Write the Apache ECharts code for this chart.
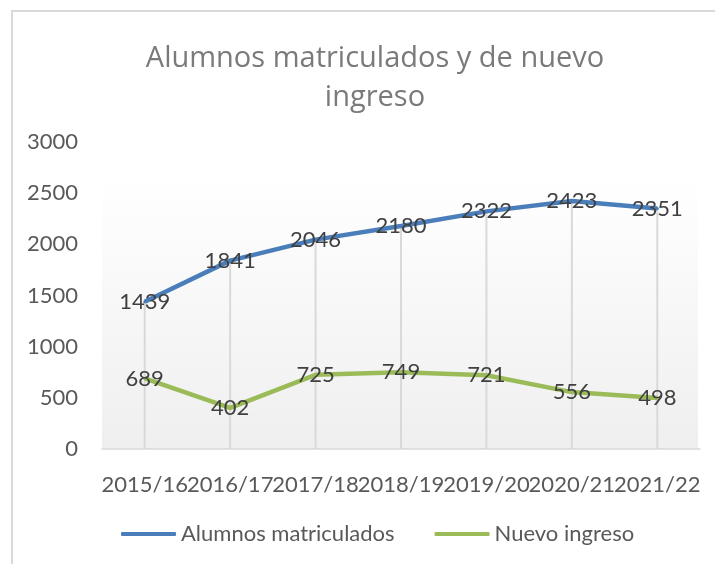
<!DOCTYPE html>
<html>
<head>
<meta charset="utf-8">
<script src="https://cdn.jsdelivr.net/npm/echarts@6/dist/echarts.min.js"></script>
<style>
  html, body { margin: 0; padding: 0; background: #fff; }
  #chart { width: 715px; height: 564px; }
</style>
</head>
<body>
<div id="chart"></div>
<script>
var years = ['2015/16', '2016/17', '2017/18', '2018/19', '2019/20', '2020/21', '2021/22'];
var matriculados = [1439, 1841, 2046, 2180, 2322, 2423, 2351];
var nuevoIngreso = [689, 402, 725, 749, 721, 556, 498];
var yTicks = [0, 500, 1000, 1500, 2000, 2500, 3000];

var labelFont = 'Lato';
var textGray = '#595959';

var chart = echarts.init(document.getElementById('chart'));
chart.setOption({
  animation: false,
  title: {
    text: 'Alumnos matriculados y de nuevo\ningreso',
    left: 370,
    textAlign: 'center',
    top: 34,
    textStyle: {
      fontFamily: 'Open Sans',
      fontWeight: 'normal',
      fontSize: 29,
      lineHeight: 39,
      color: '#7a7a7a'
    }
  },
  graphic: [
    { // chart frame
      type: 'rect', z: -10, silent: true,
      shape: { x: 12, y: 11, width: 720, height: 600 },
      style: { fill: null, stroke: '#d9d9d9', lineWidth: 2 }
    },
    { // plot area fill
      type: 'rect', z: -5, silent: true,
      shape: { x: 102, y: 178, width: 596, height: 271 },
      style: {
        fill: new echarts.graphic.LinearGradient(0, 0, 0, 1, [
          { offset: 0, color: '#ffffff' },
          { offset: 1, color: '#efefef' }
        ])
      }
    }
  ],
  legend: {
    data: ['Alumnos matriculados', 'Nuevo ingreso'],
    top: 518,
    left: 116,
    itemWidth: 55,
    itemHeight: 4,
    itemGap: 40,
    icon: 'roundRect',
    textStyle: { fontFamily: labelFont, fontSize: 22, color: textGray }
  },
  grid: { left: 102, right: 15, top: 142, bottom: 115 },
  xAxis: {
    type: 'category',
    data: years,
    axisLine: { lineStyle: { color: '#d9d9d9', width: 1.5 } },
    axisTick: { show: false },
    axisLabel: { interval: 0, margin: 25, fontFamily: labelFont, fontSize: 22, color: textGray }
  },
  yAxis: {
    type: 'value',
    min: yTicks[0],
    max: yTicks[yTicks.length - 1],
    interval: 500,
    splitLine: { show: false },
    axisLine: { show: false },
    axisTick: { show: false },
    axisLabel: {
      margin: 24, fontFamily: labelFont, fontSize: 22, color: textGray,
      formatter: function (v) { return String(v); }
    }
  },
  series: [
    { // drop lines
      name: 'drop', type: 'bar', data: matriculados, barWidth: 2, silent: true, z: 1,
      itemStyle: { color: '#d9d9d9' }
    },
    {
      name: 'Alumnos matriculados', type: 'line', data: matriculados, z: 3,
      symbol: 'circle', symbolSize: 3, showSymbol: true,
      lineStyle: { color: '#4a7ebb', width: 4.5 },
      itemStyle: { color: '#4a7ebb' },
      label: { show: true, position: 'inside', fontFamily: labelFont, fontSize: 22, color: '#404040' }
    },
    {
      name: 'Nuevo ingreso', type: 'line', data: nuevoIngreso, z: 3,
      symbol: 'circle', symbolSize: 3, showSymbol: true,
      lineStyle: { color: '#9bbb59', width: 4.5 },
      itemStyle: { color: '#9bbb59' },
      label: { show: true, position: 'inside', fontFamily: labelFont, fontSize: 22, color: '#404040' }
    }
  ]
});
</script>
</body>
</html>
